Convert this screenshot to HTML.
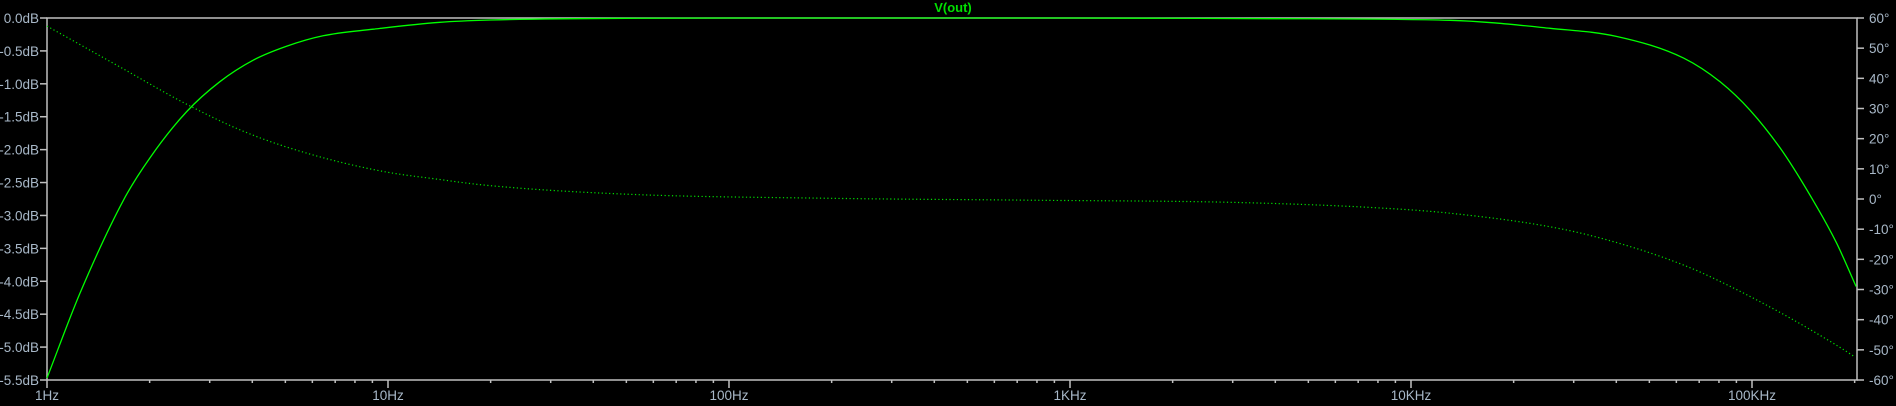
<!DOCTYPE html>
<html><head><meta charset="utf-8"><style>
html,body{margin:0;padding:0;background:#000;width:1896px;height:406px;overflow:hidden}
svg{display:block}
text{font-family:"Liberation Sans",Arial,sans-serif;font-size:13.5px}
</style></head><body>
<svg id="chart" width="1896" height="406" xmlns="http://www.w3.org/2000/svg">
<rect x="0" y="0" width="1896" height="406" fill="#000"/>
<text x="953" y="12" text-anchor="middle" fill="#00e000" font-weight="bold" style="font-size:13px">V(out)</text>
<g id="axes"></g>
<g id="series"></g>
</svg>
<script>
const magFreqs = [1,1.25,1.675,2.0,2.57,3.21,4.03,5.04,6.45,9.05,14.2,20,50,200,1000,4000,13000,25600,40000,63000,80600,98600,123000,155000,177000,202000];
const magDb   = [-5.47,-4.18,-2.77,-2.13,-1.42,-0.97,-0.64,-0.43,-0.27,-0.17,-0.065,-0.03,-0.005,0,0,-0.01,-0.035,-0.157,-0.28,-0.61,-0.97,-1.40,-2.03,-2.87,-3.42,-4.08];
const phFreqs = [1,1.6,2.57,3.85,5.77,9.7,13.9,20,51,198,764,2950,7300,13000,27000,41700,63000,84000,123000,173000,200000];
const phDeg   = [57.3,44.4,31.4,22.0,15.2,9.1,6.6,4.4,1.56,0.24,-0.4,-1.1,-2.7,-4.7,-9.7,-15,-21.9,-28.3,-38.1,-47.8,-52.3];
const dbTicks = [0,-0.5,-1,-1.5,-2,-2.5,-3,-3.5,-4,-4.5,-5,-5.5];
const degTicks = [60,50,40,30,20,10,0,-10,-20,-30,-40,-50,-60];
const freqTicks = [1,10,100,1000,10000,100000];
const freqLabels = ["1Hz","10Hz","100Hz","1KHz","10KHz","100KHz"];

const L=47,R=1857,T=18,B=380,DEC=341;
const NS="http://www.w3.org/2000/svg";
function xOf(f){return L+Math.log10(f)*DEC;}
function yDb(d){return T+(0-d)/5.5*(B-T);}
function yDeg(a){return T+(60-a)/120*(B-T);}
function mk(tag,attrs,parent){const e=document.createElementNS(NS,tag);for(const k in attrs)e.setAttribute(k,attrs[k]);parent.appendChild(e);return e;}
const axes=document.getElementById('axes'), series=document.getElementById('series');
const AX="#c0c0c0", LB="#a8b8c8";

const frame=mk('path',{d:`M${L},${B}V${T}H${R}V${B}H${L}`,fill:'none',stroke:AX,'stroke-width':1.5},axes);



dbTicks.forEach(d=>{const y=yDb(d);
 const t=mk('line',{x1:L-7,x2:L,y1:y,y2:y,stroke:AX,'stroke-width':1.5},axes);
 
 
 const tx=mk('text',{x:L-8,y:y+5,'text-anchor':'end',fill:LB},axes);
 tx.textContent=(d===0?'0.0':d.toFixed(1))+'dB';
 
 
});
degTicks.forEach(a=>{const y=yDeg(a);
 const t=mk('line',{x1:R,x2:R+7,y1:y,y2:y,stroke:AX,'stroke-width':1.5},axes);
 
 
 const tx=mk('text',{x:R+12,y:y+5,'text-anchor':'start',fill:LB},axes);
 tx.textContent=a+'°';
 
 
});
freqTicks.forEach((f,i)=>{const x=xOf(f);
 const t=mk('line',{x1:x,x2:x,y1:B,y2:B+8,stroke:AX,'stroke-width':1.5},axes);
 
 
 const tx=mk('text',{x:x,y:B+20,'text-anchor':'middle',fill:LB},axes);
 tx.textContent=freqLabels[i];
 
 
 for(let m=2;m<=9;m++){const xm=xOf(f*m); if(xm>R)break;
  const mt=mk('line',{x1:xm,x2:xm,y1:B,y2:B+3,stroke:AX,'stroke-width':1.5},axes);
  
  }
});

function monoPath(pts){const n=pts.length,dx=[],s=[],m=[];
 for(let i=0;i<n-1;i++){dx[i]=pts[i+1][0]-pts[i][0];s[i]=(pts[i+1][1]-pts[i][1])/dx[i];}
 m[0]=s[0];m[n-1]=s[n-2];
 for(let i=1;i<n-1;i++){m[i]=(s[i-1]*s[i]<=0)?0:(s[i-1]+s[i])/2;}
 for(let i=0;i<n-1;i++){if(s[i]===0){m[i]=0;m[i+1]=0;continue;}
  const a=m[i]/s[i],b=m[i+1]/s[i],h=a*a+b*b;if(h>9){const t=3/Math.sqrt(h);m[i]=t*a*s[i];m[i+1]=t*b*s[i];}}
 let d=`M${pts[0][0].toFixed(1)},${pts[0][1].toFixed(1)}`;
 for(let i=0;i<n-1;i++){const h=dx[i]/3;
  d+=`C${(pts[i][0]+h).toFixed(1)},${(pts[i][1]+m[i]*h).toFixed(1)} ${(pts[i+1][0]-h).toFixed(1)},${(pts[i+1][1]-m[i+1]*h).toFixed(1)} ${pts[i+1][0].toFixed(1)},${pts[i+1][1].toFixed(1)}`;}
 return d;}
const magPts=magFreqs.map((f,i)=>[xOf(f),yDb(magDb[i])]);
const phPts=phFreqs.map((f,i)=>[xOf(f),yDeg(phDeg[i])]);
const mag=mk('path',{d:monoPath(magPts),fill:'none',stroke:'#00ff00','stroke-width':1.3},series);


const ph=mk('path',{d:monoPath(phPts),fill:'none',stroke:'#00e000','stroke-width':1.2,'stroke-dasharray':'1.2 2.5'},series);


</script>
</body></html>
